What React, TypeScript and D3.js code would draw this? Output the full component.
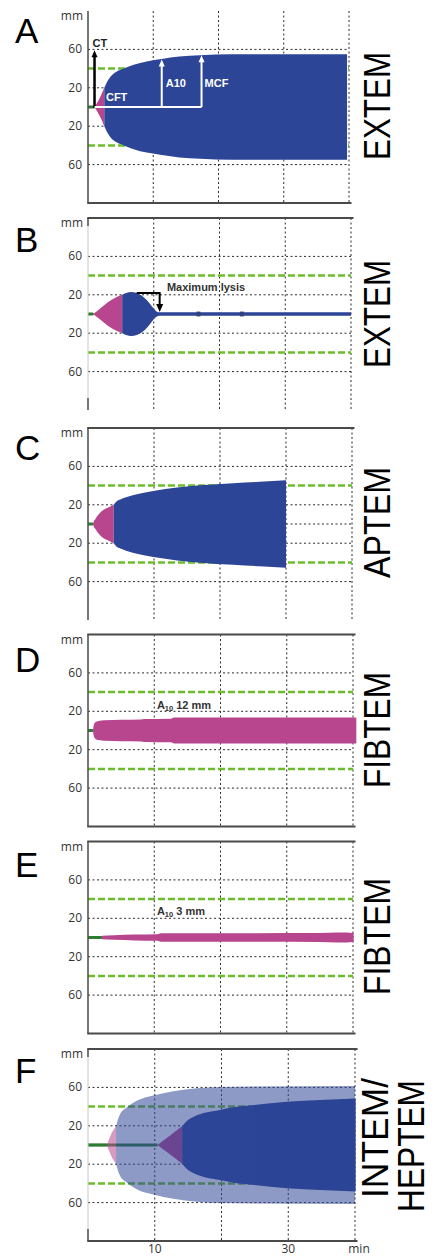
import React from "react";
import * as d3 from "d3";

const PINK = "#b8468f";
const BLUE = "#2d4596";
const BASE_GREEN = "#2e7d32";
const REF_GREEN = "#6cbd2b";
const GRID = "#2b2b2b";
const FRAME = "#4a4a4a";
const SANS = "'Liberation Sans', Arial, Helvetica, sans-serif";
const LABEL_FONT = "'Open Sans', 'DejaVu Sans', sans-serif";

// time in min, half amplitude in mm (trace is mirrored around 0)
// A - EXTEM normal
const aBaseEnd = 1.0;
const aPinkT = [1.0, 1.8, 2.5];
const aPinkAmp = [0, 9.5, 20];
const aBlueT = [2.5, 3.0, 3.5, 4.3, 5.5, 7, 9, 11.3, 14, 17.2, 22, 30, 39.7];
const aBlueAmp = [20, 27, 32, 36.5, 40, 44, 47.5, 50, 52.5, 54, 55, 55, 55];

// B - EXTEM hyperfibrinolysis
const bBaseEnd = 0.8;
const bPinkT = [0.8, 1.8, 3.3, 4.3, 5.2];
const bPinkAmp = [0, 5.5, 13.5, 17.5, 20];
const bBlueT = [5.2, 5.8, 6.6, 7.4, 8.2, 9.0, 9.7, 10.3, 10.8, 40];
const bBlueAmp = [20, 22, 23, 22, 19, 14, 8, 3.5, 1.7, 1.7];
const bBlipT = [16.8, 23.4];

// C - APTEM
const cBaseEnd = 0.75;
const cPinkT = [0.75, 0.9, 1.1, 1.5, 2.3, 3.0, 3.9];
const cPinkAmp = [0, 3, 5, 9, 14.5, 17, 20];
const cBlueT = [3.9, 4.3, 4.9, 5.9, 7.4, 9.9, 13.5, 17, 22, 26, 30];
const cBlueAmp = [20, 23.5, 25.5, 28, 31, 34.5, 38, 40.3, 42.5, 44, 45.5];

// D - FIBTEM, A10 12 mm
const dBaseEnd = 0.75;
const dPinkT = [0.75, 0.85, 1.1, 1.6, 2.5, 5, 8, 8.5, 12.5, 13, 40.5];
const dPinkAmp = [0, 5, 8.5, 10, 10.8, 11.2, 11.5, 12, 12.3, 13.5, 13.5];

// E - FIBTEM, A10 3 mm
const eBaseEnd = 2.1;
const ePinkT = [2.1, 3.9, 7, 10.5, 11, 20, 35, 37.5, 39, 40.1];
const ePinkAmp = [1.8, 2.4, 3.0, 3.4, 4.3, 4.5, 4.6, 5.3, 5.3, 4.8];

// F - INTEM (dark) / HEPTEM (light)
const fIntemBaseEnd = 10.4;
const fIntemPinkT = [10.4, 12.2, 14.1];
const fIntemPinkAmp = [0, 9.5, 19.5];
const fIntemBlueT = [14.1, 14.8, 16, 17.5, 19.8, 22, 24.7, 29.8, 34.8, 40.1];
const fIntemBlueAmp = [19.5, 25, 30, 33.5, 36.5, 39.5, 41.5, 45, 47, 48.5];
const fHeptemBaseEnd = 2.8;
const fHeptemPinkT = [2.8, 3.1, 3.55, 4.2];
const fHeptemPinkAmp = [0, 5, 12.5, 19.5];
const fHeptemBlueT = [4.2, 4.5, 4.8, 5.8, 7.3, 9.8, 12.8, 16.3, 19.8, 25, 40];
const fHeptemBlueAmp = [19.5, 27, 32, 39, 46, 51.5, 56, 59, 60.5, 61, 61.5];

// axes
const yGridMM = [60, 20, 0, -20, -60];
const yTickMM = [60, 20, -20, -60];
const refMM = [40, -40];
const xGridMin = [10, 20, 30, 40];
const xTickMin = [10, 30];
const X_MAX = 40;

const X0 = 88;
const HALF = 96;

const panels = [
  { id: "A", cy: 107, right: 349, top: false, bottom: true, faint: false, letterY: 43,
    names: [{ text: "EXTEM", x: 390, y: 160, len: 108 }] },
  { id: "B", cy: 314, right: 351, top: true, bottom: false, faint: true, letterY: 252,
    names: [{ text: "EXTEM", x: 390, y: 368, len: 108 }] },
  { id: "C", cy: 524, right: 352, top: true, bottom: false, faint: false, letterY: 460,
    names: [{ text: "APTEM", x: 390, y: 578, len: 111 }] },
  { id: "D", cy: 730.5, right: 353, top: true, bottom: true, faint: false, letterY: 672,
    names: [{ text: "FIBTEM", x: 390, y: 788, len: 116 }] },
  { id: "E", cy: 937.5, right: 353, top: true, bottom: true, faint: false, letterY: 877,
    names: [{ text: "FIBTEM", x: 390, y: 995, len: 117 }] },
  { id: "F", cy: 1145, right: 355, top: true, bottom: true, faint: true, letterY: 1083,
    names: [
      { text: "INTEM/", x: 388, y: 1198, len: 120 },
      { text: "HEPTEM", x: 424, y: 1212, len: 132 },
    ] },
];

type Scale = d3.ScaleLinear<number, number>;

function trace(x: Scale, y: Scale, t: number[], amp: number[]) {
  const pts = t.map((v, i) => [v, amp[i]] as [number, number]);
  return d3
    .area<[number, number]>()
    .x((d) => x(d[0]))
    .y0((d) => y(-d[1]))
    .y1((d) => y(d[1]))
    .curve(d3.curveMonotoneX)(pts) as string;
}

function Baseline({ x, y, end }: { x: Scale; y: Scale; end: number }) {
  return <line x1={x(0)} x2={x(end)} y1={y(0)} y2={y(0)} stroke={BASE_GREEN} strokeWidth={3} />;
}

function ArrowUp({ x, yTip, color }: { x: number; yTip: number; color: string }) {
  return <path d={`M${x},${yTip} L${x - 3},${yTip + 7} L${x + 3},${yTip + 7} Z`} fill={color} />;
}

function A10Label({ x, y, value }: { x: number; y: number; value: string }) {
  return (
    <text x={x} y={y} fontFamily={SANS} fontWeight="bold" fontSize={11} fill="#333">
      A
      <tspan fontSize={7.5} dy={2}>10</tspan>
      <tspan dy={-2}>{"  " + value}</tspan>
    </text>
  );
}

function Traces({ id, x, y }: { id: string; x: Scale; y: Scale }) {
  if (id === "A") {
    const x0 = x(aBaseEnd);
    return (
      <g>
        <Baseline x={x} y={y} end={aBaseEnd} />
        <path d={trace(x, y, aPinkT, aPinkAmp)} fill={PINK} />
        <path d={trace(x, y, aBlueT, aBlueAmp)} fill={BLUE} />
        <line x1={x0} x2={x0} y1={y(0) + 1} y2={y(59) + 5} stroke="#000" strokeWidth={2.5} />
        <ArrowUp x={x0} yTip={y(59)} color="#000" />
        <text x={x0 - 2} y={y(59) - 3.5} fontFamily={SANS} fontWeight="bold" fontSize={11} fill="#222">CT</text>
        <line x1={x0} x2={x(17.4)} y1={y(0)} y2={y(0)} stroke="#fff" strokeWidth={2} />
        <line x1={x(11.3)} x2={x(11.3)} y1={y(0)} y2={y(49.5) + 5} stroke="#fff" strokeWidth={2} />
        <ArrowUp x={x(11.3)} yTip={y(49.5)} color="#fff" />
        <line x1={x(17.4)} x2={x(17.4)} y1={y(0)} y2={y(54) + 5} stroke="#fff" strokeWidth={2} />
        <ArrowUp x={x(17.4)} yTip={y(54)} color="#fff" />
        <text x={x(2.6) + 1} y={y(6)} fontFamily={SANS} fontWeight="bold" fontSize={11} fill="#fff">CFT</text>
        <text x={x(11.3) + 4} y={y(21)} fontFamily={SANS} fontWeight="bold" fontSize={11} fill="#fff">A10</text>
        <text x={x(17.4) + 3} y={y(21)} fontFamily={SANS} fontWeight="bold" fontSize={11} fill="#fff">MCF</text>
      </g>
    );
  }
  if (id === "B") {
    const xa = x(10.9);
    return (
      <g>
        <Baseline x={x} y={y} end={bBaseEnd} />
        <path d={trace(x, y, bPinkT, bPinkAmp)} fill={PINK} />
        <path d={trace(x, y, bBlueT, bBlueAmp)} fill={BLUE} />
        {bBlipT.map((t) => (
          <rect key={t} x={x(t) - 2} y={y(2.5)} width={4} height={y(-2.5) - y(2.5)} fill="#33407a" />
        ))}
        <path
          d={`M${x(7.4)},${y(22)} L${xa},${y(22)} L${xa},${y(2) - 7}`}
          fill="none"
          stroke="#000"
          strokeWidth={2}
        />
        <path d={`M${xa},${y(2)} L${xa - 3.5},${y(2) - 8} L${xa + 3.5},${y(2) - 8} Z`} fill="#000" />
        <text x={x(12)} y={y(24)} fontFamily={SANS} fontWeight="bold" fontSize={11} fill="#333">
          Maximum lysis
        </text>
      </g>
    );
  }
  if (id === "C") {
    return (
      <g>
        <Baseline x={x} y={y} end={cBaseEnd} />
        <path d={trace(x, y, cPinkT, cPinkAmp)} fill={PINK} />
        <path d={trace(x, y, cBlueT, cBlueAmp)} fill={BLUE} />
      </g>
    );
  }
  if (id === "D") {
    return (
      <g>
        <Baseline x={x} y={y} end={dBaseEnd} />
        <path d={trace(x, y, dPinkT, dPinkAmp)} fill={PINK} />
        <A10Label x={x(10.4)} y={y(22)} value="12 mm" />
      </g>
    );
  }
  if (id === "E") {
    return (
      <g>
        <Baseline x={x} y={y} end={eBaseEnd} />
        <path d={trace(x, y, ePinkT, ePinkAmp)} fill={PINK} />
        <A10Label x={x(10.4)} y={y(23)} value="3 mm" />
      </g>
    );
  }
  return (
    <g>
      <Baseline x={x} y={y} end={fIntemBaseEnd} />
      <path d={trace(x, y, fIntemPinkT, fIntemPinkAmp)} fill={PINK} />
      <path d={trace(x, y, fIntemBlueT, fIntemBlueAmp)} fill={BLUE} />
      <g opacity={0.54}>
        <Baseline x={x} y={y} end={fHeptemBaseEnd} />
        <path d={trace(x, y, fHeptemPinkT, fHeptemPinkAmp)} fill={PINK} />
        <path d={trace(x, y, fHeptemBlueT, fHeptemBlueAmp)} fill={BLUE} />
      </g>
    </g>
  );
}

function Panel({ p }: { p: (typeof panels)[number] }) {
  const top = p.cy - HALF;
  const bottom = p.cy + HALF;
  const x = d3.scaleLinear().domain([0, X_MAX]).range([X0, p.right]);
  const y = d3.scaleLinear().domain([-100, 100]).range([bottom, top]);
  return (
    <g>
      {/* dotted grid */}
      {yGridMM.map((v) => (
        <line key={"h" + v} x1={X0} x2={p.right} y1={y(v)} y2={y(v)} stroke={GRID} strokeWidth={1} strokeDasharray="2 2.5" />
      ))}
      {xGridMin.map((v) => (
        <line key={"v" + v} x1={x(v)} x2={x(v)} y1={top} y2={bottom} stroke={GRID} strokeWidth={1} strokeDasharray="2 2.5" />
      ))}
      {/* reference band */}
      {refMM.map((v) => (
        <line key={"r" + v} x1={X0} x2={p.right} y1={y(v)} y2={y(v)} stroke={REF_GREEN} strokeWidth={2.5} strokeDasharray="7 3" />
      ))}
      <Traces id={p.id} x={x} y={y} />
      {/* frame */}
      {p.faint ? (
        <g>
          <line x1={X0} x2={X0} y1={top} y2={top + 8} stroke={FRAME} strokeWidth={1.5} />
          <line x1={X0} x2={X0} y1={top + 8} y2={bottom - 12} stroke="#c8c8c8" strokeWidth={1} />
          <line x1={X0} x2={X0} y1={bottom - 12} y2={bottom} stroke={FRAME} strokeWidth={1.5} />
        </g>
      ) : (
        <line x1={X0} x2={X0} y1={top} y2={bottom} stroke={FRAME} strokeWidth={1.5} />
      )}
      {p.top && <line x1={X0 - 0.75} x2={p.right + 2.5} y1={top} y2={top} stroke={FRAME} strokeWidth={2} />}
      {p.bottom && <line x1={X0 - 0.75} x2={p.right + 2.5} y1={bottom} y2={bottom} stroke={FRAME} strokeWidth={2} />}
      {/* y labels */}
      <text x={83} y={top + 9} textAnchor="end" fontFamily={LABEL_FONT} fontSize={12} fill="#333">mm</text>
      {yTickMM.map((v) => (
        <text key={"t" + v} x={82} y={y(v) + 4} textAnchor="end" fontFamily={LABEL_FONT} fontSize={12} fill="#333">
          {Math.abs(v)}
        </text>
      ))}
      {p.id === "F" && (
        <g>
          {xTickMin.map((v) => (
            <text key={"x" + v} x={x(v)} y={1253} textAnchor="middle" fontFamily={LABEL_FONT} fontSize={12} fill="#333">
              {v}
            </text>
          ))}
          <text x={x(X_MAX) + 4} y={1253} textAnchor="middle" fontFamily={LABEL_FONT} fontSize={12} fill="#333">min</text>
        </g>
      )}
      {/* panel letter and assay name */}
      <text x={15} y={p.letterY} fontFamily={SANS} fontSize={35} fill="#000">{p.id}</text>
      {p.names.map((n) => (
        <text
          key={n.text}
          transform={`translate(${n.x},${n.y}) rotate(-90)`}
          fontFamily={SANS}
          fontSize={37}
          textLength={n.len}
          lengthAdjust="spacingAndGlyphs"
          fill="#000"
        >
          {n.text}
        </text>
      ))}
    </g>
  );
}

export default function App() {
  return (
    <svg
      width={433}
      height={1258}
      style={{ position: "absolute", left: 0, top: 0, background: "#fff" }}
    >
      <rect width={433} height={1258} fill="#fff" />
      {panels.map((p) => (
        <Panel key={p.id} p={p} />
      ))}
    </svg>
  );
}
